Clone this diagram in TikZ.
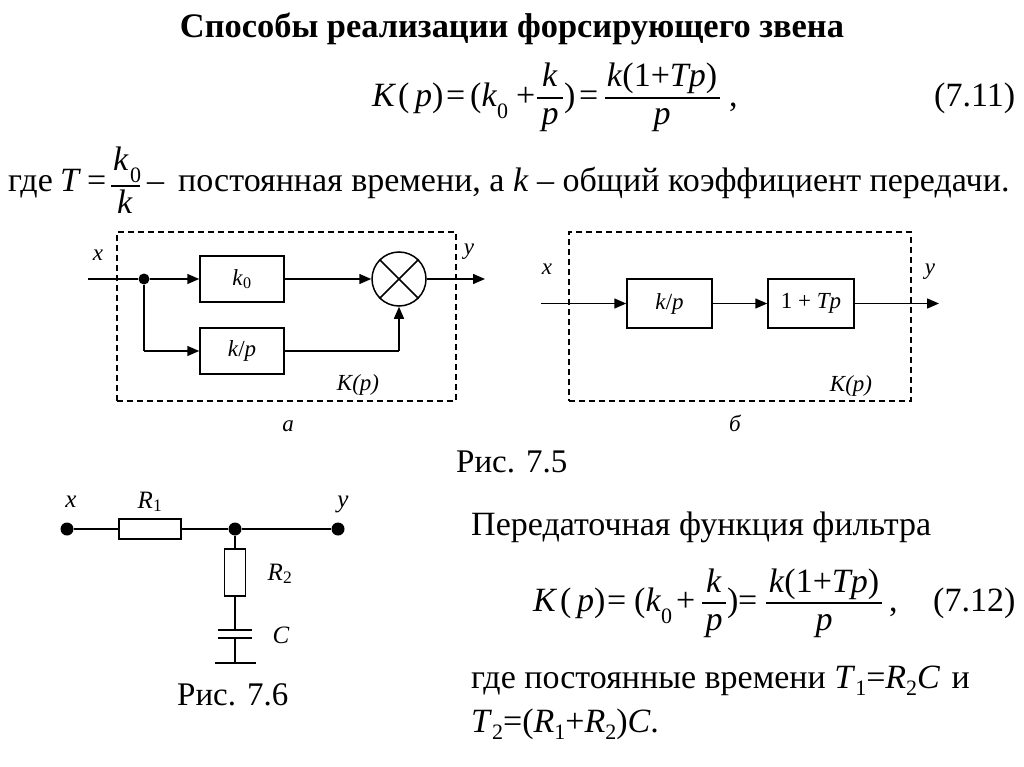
\documentclass[tikz,border=0pt]{standalone}
\usepackage{fontspec}
\setmainfont{Liberation Serif}
\usetikzlibrary{arrows.meta}

\newcommand{\fsbig}{\fontsize{34}{38}\selectfont}
\newcommand{\fssub}{\fontsize{22}{24}\selectfont}
\newcommand{\fslab}{\fontsize{23}{25}\selectfont}
\newcommand{\fscirc}{\fontsize{25}{27}\selectfont}
\newcommand{\lowidx}[1]{\raisebox{-7pt}{\fssub #1}}

\tikzset{
    txt/.style={anchor=base west, inner sep=0pt, font=\fsbig},
    txtc/.style={anchor=base, inner sep=0pt, font=\fsbig},
    lab/.style={anchor=base, inner sep=0pt, font=\fslab\itshape},
    blockbox/.style={draw, line width=1.5pt, rectangle, inner sep=0pt, font=\fslab},
    dashbox/.style={draw, line width=1.5pt, dash pattern=on 6pt off 4pt, rectangle, inner sep=0pt, minimum width=339pt, minimum height=169pt},
    sumcirc/.style={draw, line width=1.5pt, circle, inner sep=0pt, minimum size=54pt},
    dotnode/.style={fill, circle, inner sep=0pt, minimum size=#1},
    elem/.style={draw, line width=1.5pt, rectangle, inner sep=0pt, fill=white},
    wire/.style={line width=1.5pt},
    sig/.style={wire, -{Triangle[length=12pt,width=10pt]}},
    fbar/.style={line width=1.1pt}
}

\begin{document}
\begin{tikzpicture}[x=1pt,y=-1pt]
    \useasboundingbox (0,0) rectangle (1024,767);

    \node (title) at (512,38) [anchor=base, inner sep=0pt, font=\fontsize{34.4}{38}\selectfont\bfseries] {Способы реализации форсирующего звена};

    % eq 7.11
    \node (eqaK) at (372,107) [txt] {\textit{K}};
    \node (eqaP) at (398,107) [txt] {(\,\textit{p})};
    \node (eqaeq) at (446,107) [txt] {=};
    \node (eqak) at (470,107) [txt] {(\textit{k}};
    \node (eqazero) at (497,119) [txt, font=\fssub] {0};
    \node (eqaplus) at (516,107) [txt] {+};
    \node (eqanum) at (550,87) [txtc] {\textit{k}};
    \node (eqaden) at (550,125) [txtc] {\textit{p}};
    \draw[fbar] (537,98) -- (563,98);
    \node (eqaclose) at (564,107) [txt] {)};
    \node (eqamid) at (579,107) [txt] {=};
    \node (eqbnum) at (662,87) [txtc] {\textit{k}(1+\textit{Tp})};
    \node (eqbden) at (662,125) [txtc] {\textit{p}};
    \draw[fbar] (605,98) -- (720,98);
    \node (eqacomma) at (729,107) [txt] {,};
    \node (eqanr) at (934,107) [txt] {(7.11)};

    % line with T
    \node (gde) at (8,192) [txt] {где};
    \node (gdeT) at (60,192) [txt] {\textit{T}};
    \node (gdeeq) at (87,192) [txt] {=};
    \node (gdenum) at (113,171) [txt] {\textit{k}};
    \node (gdezero) at (130,183) [txt, font=\fssub] {0};
    \node (gdeden) at (125,214) [txtc] {\textit{k}};
    \draw[fbar] (111,186) -- (140,186);
    \node (gdedash) at (147,192) [txt] {–};
    \node (gderest) at (178,192) [txt] {постоянная времени, а \textit{k} – общий коэффициент передачи.};

    % diagram a
    \node (dasha) at (286.5,316.5) [dashbox] {};
    \node (kzero) at (242,279) [blockbox, minimum width=84pt, minimum height=46pt] {\textit{k}\textsubscript{0}};
    \node (kpa) at (242,351) [blockbox, minimum width=84pt, minimum height=46pt] {\textit{k}/\textit{p}};
    \node (sum) at (399,279) [sumcirc] {};
    \node (split) at (144,279) [dotnode=11pt] {};
    \coordinate (ina) at (88,279);
    \coordinate (outa) at (485,279);
    \coordinate (turna) at (144,351);
    \coordinate (turnb) at (sum.south |- kpa.east);
    \draw[wire] (ina) -- (split);
    \draw[sig] (split) -- (kzero);
    \draw[sig] (kzero) -- (sum);
    \draw[sig] (sum) -- (outa);
    \draw[wire] (split) -- (turna);
    \draw[sig] (turna) -- (kpa);
    \draw[wire] (kpa) -- (turnb);
    \draw[sig] (turnb) -- (sum.south);
    \draw[wire] (sum.45) -- (sum.225);
    \draw[wire] (sum.135) -- (sum.315);
    \node (xa) at (98,260) [lab] {x};
    \node (ya) at (469,254) [lab] {y};
    \node (kpla) at (358,390) [lab] {\textit{K}(\textit{p})};
    \node (capa) at (288,431) [lab] {а};

    % diagram b
    \node (dashb) at (740,316.5) [dashbox, minimum width=342pt] {};
    \node (kpb) at (669.5,303.5) [blockbox, minimum width=85pt, minimum height=49pt] {\textit{k}/\textit{p}};
    \node (tpb) at (811,303.5) [blockbox, minimum width=86pt, minimum height=49pt] {1 + \textit{Tp}};
    \coordinate (inb) at (541,303.5);
    \coordinate (outb) at (939,303.5);
    \draw[sig] (inb) -- (kpb);
    \draw[sig] (kpb) -- (tpb);
    \draw[sig] (tpb) -- (outb);
    \node (xb) at (547,274) [lab] {x};
    \node (yb) at (930,274) [lab] {y};
    \node (kplb) at (851,391) [lab] {\textit{K}(\textit{p})};
    \node (capb) at (735,431) [lab] {б};

    \node (figa) at (456,472) [txt, font=\fontsize{33}{36}\selectfont] {Рис. 7.5};

    % circuit
    \node (xdot) at (67,529) [dotnode=13pt] {};
    \node (jun) at (235,529) [dotnode=13pt] {};
    \node (ydot) at (338,529) [dotnode=13pt] {};
    \node (rone) at (150,529) [elem, minimum width=62pt, minimum height=20pt] {};
    \node (rtwo) at (235,572.5) [elem, minimum width=21pt, minimum height=47pt] {};
    \node (platea) at (235,630) [minimum width=34pt, inner sep=0pt, minimum height=1.5pt, fill] {};
    \node (plateb) at (235,638) [minimum width=34pt, inner sep=0pt, minimum height=1.5pt, fill] {};
    \node (plategnd) at (235,663) [minimum width=41pt, inner sep=0pt, minimum height=1.5pt, fill] {};
    \draw[wire] (xdot) -- (rone);
    \draw[wire] (rone) -- (jun);
    \draw[wire] (jun) -- (ydot);
    \draw[wire] (jun) -- (rtwo);
    \draw[wire] (rtwo) -- (platea);
    \draw[wire] (plateb) -- (plategnd);
    \node (xc) at (71,507) [lab, font=\fscirc\itshape] {x};
    \node (rlone) at (150,508) [lab, font=\fscirc] {\textit{R}\textsubscript{1}};
    \node (yc) at (343,507) [lab, font=\fscirc\itshape] {y};
    \node (rltwo) at (280,580) [lab, font=\fscirc] {\textit{R}\textsubscript{2}};
    \node (cc) at (281,643) [lab, font=\fscirc\itshape] {C};
    \node (figb) at (177,705) [txt, font=\fontsize{33}{36}\selectfont] {Рис. 7.6};

    % right column
    \node (filt) at (471,535) [txt] {Передаточная функция фильтра};
    \node (eqcK) at (533,611) [txt] {\textit{K}};
    \node (eqcP) at (560,611) [txt] {(\,\textit{p})};
    \node (eqceq) at (607,611) [txt] {=};
    \node (eqck) at (634,611) [txt] {(\textit{k}};
    \node (eqczero) at (661,623) [txt, font=\fssub] {0};
    \node (eqcplus) at (676,611) [txt] {+};
    \node (eqcnum) at (714,592) [txtc] {\textit{k}};
    \node (eqcden) at (714,630) [txtc] {\textit{p}};
    \draw[fbar] (702,603) -- (726,603);
    \node (eqcclose) at (727,611) [txt] {)};
    \node (eqcmid) at (738,611) [txt] {=};
    \node (eqdnum) at (824,592) [txtc] {\textit{k}(1+\textit{Tp})};
    \node (eqdden) at (824,630) [txtc] {\textit{p}};
    \draw[fbar] (766,603) -- (882,603);
    \node (eqccomma) at (889,611) [txt] {,};
    \node (eqcnr) at (933,611) [txt] {(7.12)};
    \node (lineone) at (471,688) [txt] {где постоянные времени \textit{T}\lowidx{1}=\textit{R}\lowidx{2}\textit{C}\kern3pt{} и};
    \node (linetwo) at (471,732) [txt] {\textit{T}\lowidx{2}=(\textit{R}\lowidx{1}+\textit{R}\lowidx{2})\textit{C}.};
\end{tikzpicture}
\end{document}
